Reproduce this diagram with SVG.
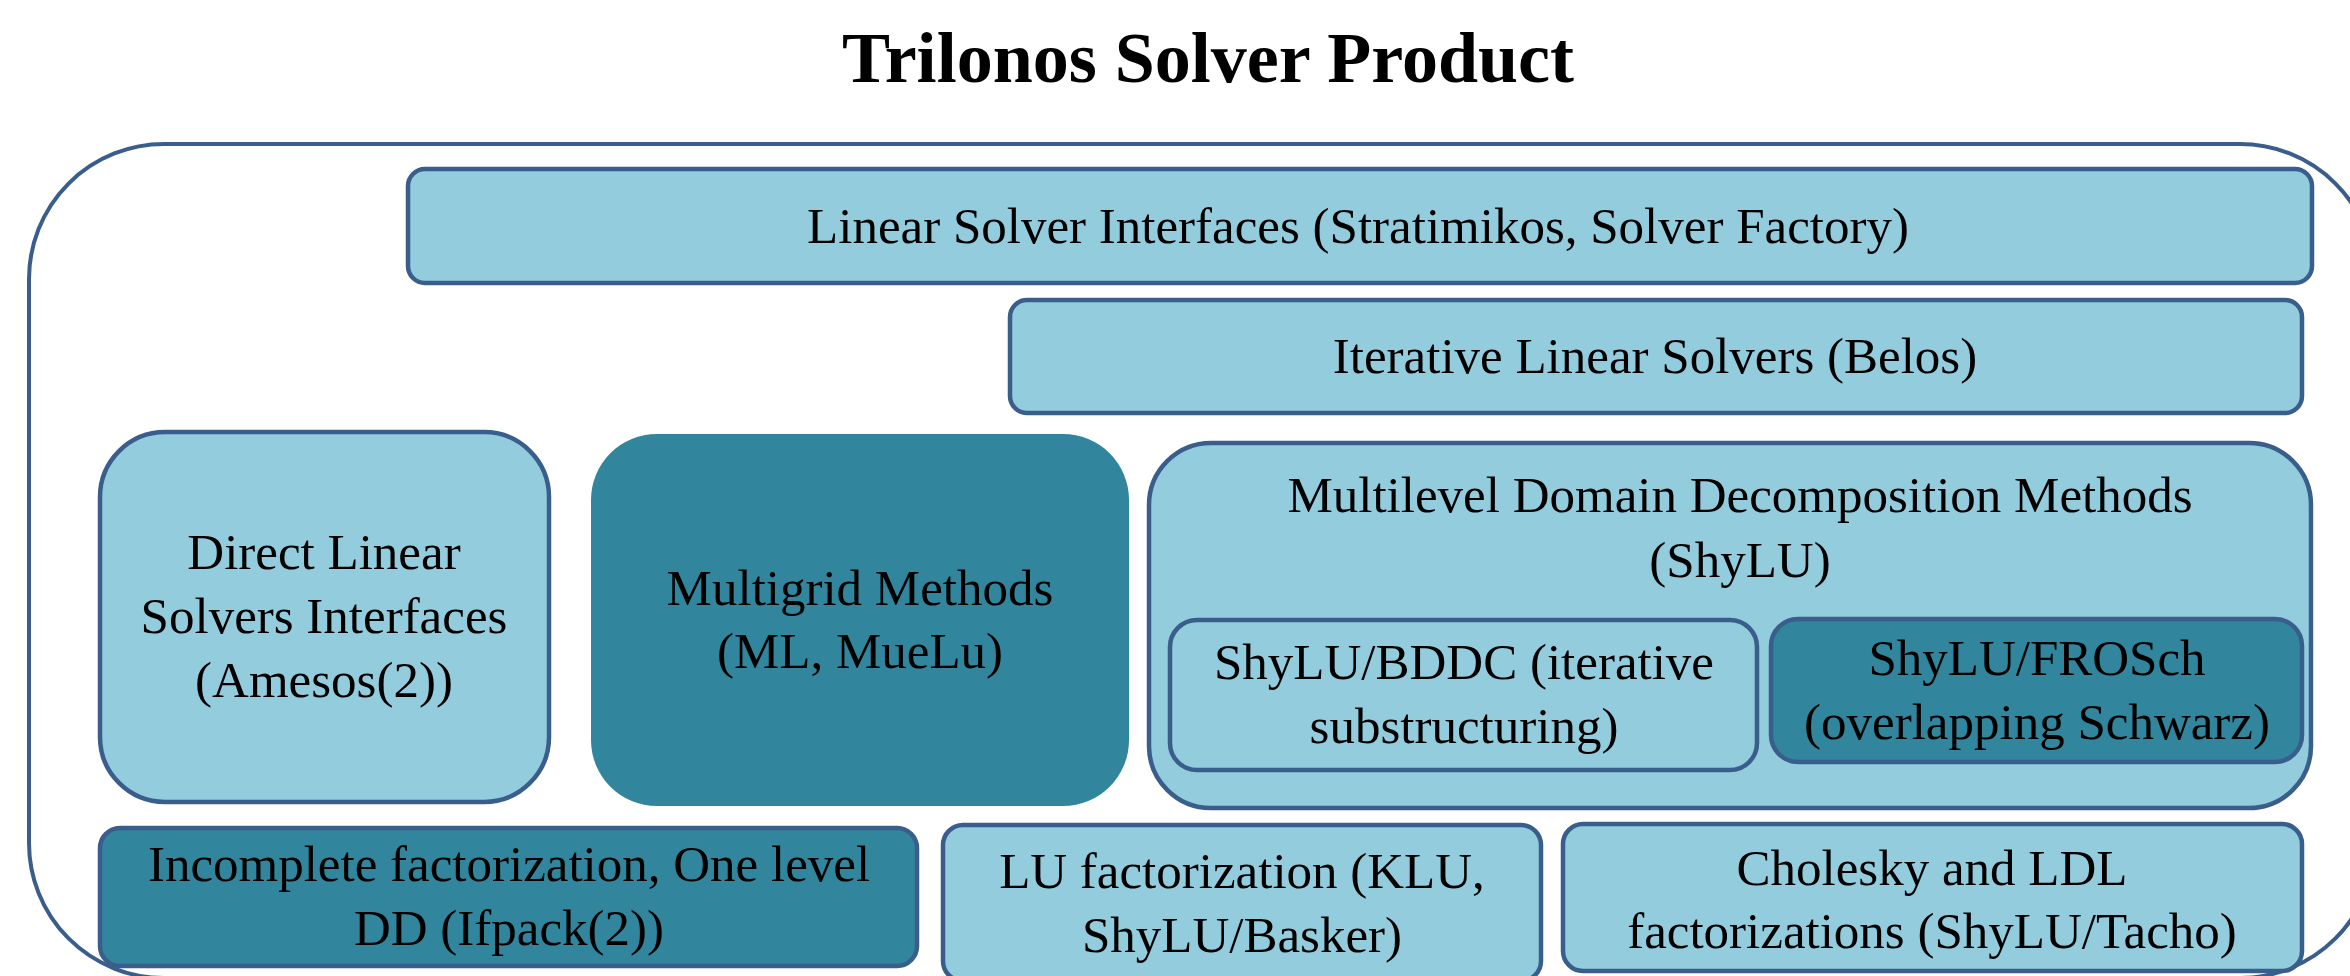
<svg xmlns="http://www.w3.org/2000/svg" width="2350" height="976" viewBox="0 0 2350 976">
<style>
.light{fill:#93CCDD;stroke:#3A5E8C;stroke-width:4.5}
.dark{fill:#31859C;stroke:#3A5E8C;stroke-width:4.5}
.dark-ns{fill:#31859C;stroke:none}
.outer{fill:none;stroke:#3A5E8C;stroke-width:4}
text{font-family:"Liberation Serif","Times New Roman",serif;font-size:51px;fill:#000;text-anchor:middle}
.title{font-size:72px;font-weight:bold}
</style>
<rect width="2350" height="976" fill="#fff"/>
<text class="title" x="1208" y="82">Trilonos Solver Product</text>
<g id="container">
<rect class="outer" x="29" y="144" width="2346" height="834" rx="135" ry="135"/>
</g>
<g id="linear-solver-interfaces">
<rect class="light" x="408" y="169" width="1904" height="114" rx="17"/>
<text x="1358" y="243">Linear Solver Interfaces (Stratimikos, Solver Factory)</text>
</g>
<g id="iterative-linear-solvers">
<rect class="light" x="1010" y="300" width="1292" height="113" rx="17"/>
<text x="1655" y="373">Iterative Linear Solvers (Belos)</text>
</g>
<g id="direct-linear-solvers">
<rect class="light" x="100" y="432" width="449" height="370" rx="65"/>
<text x="324" y="569">Direct Linear</text>
<text x="324" y="633">Solvers Interfaces</text>
<text x="324" y="697">(Amesos(2))</text>
</g>
<g id="multigrid-methods">
<rect class="dark-ns" x="591" y="434" width="538" height="372" rx="66"/>
<text x="860" y="605">Multigrid Methods</text>
<text x="860" y="668">(ML, MueLu)</text>
</g>
<g id="multilevel-dd">
<rect class="light" x="1149" y="443" width="1162" height="365" rx="62"/>
<text x="1740" y="512">Multilevel Domain Decomposition Methods</text>
<text x="1740" y="577">(ShyLU)</text>
</g>
<g id="shylu-bddc">
<rect class="light" x="1170" y="620" width="587" height="150" rx="27"/>
<text x="1464" y="679">ShyLU/BDDC (iterative</text>
<text x="1464" y="743">substructuring)</text>
</g>
<g id="shylu-frosch">
<rect class="dark" x="1771" y="619" width="531" height="143" rx="27"/>
<text x="2037" y="675">ShyLU/FROSch</text>
<text x="2037" y="739">(overlapping Schwarz)</text>
</g>
<g id="incomplete-factorization">
<rect class="dark" x="100" y="828" width="817" height="138" rx="20"/>
<text x="509" y="881">Incomplete factorization, One level</text>
<text x="509" y="945">DD (Ifpack(2))</text>
</g>
<g id="lu-factorization">
<rect class="light" x="943" y="825" width="598" height="156" rx="20"/>
<text x="1242" y="888">LU factorization (KLU,</text>
<text x="1242" y="952">ShyLU/Basker)</text>
</g>
<g id="cholesky-ldl">
<rect class="light" x="1563" y="824" width="739" height="147" rx="20"/>
<text x="1932" y="885">Cholesky and LDL</text>
<text x="1932" y="948">factorizations (ShyLU/Tacho)</text>
</g>
<g id="connectors"></g>
</svg>
